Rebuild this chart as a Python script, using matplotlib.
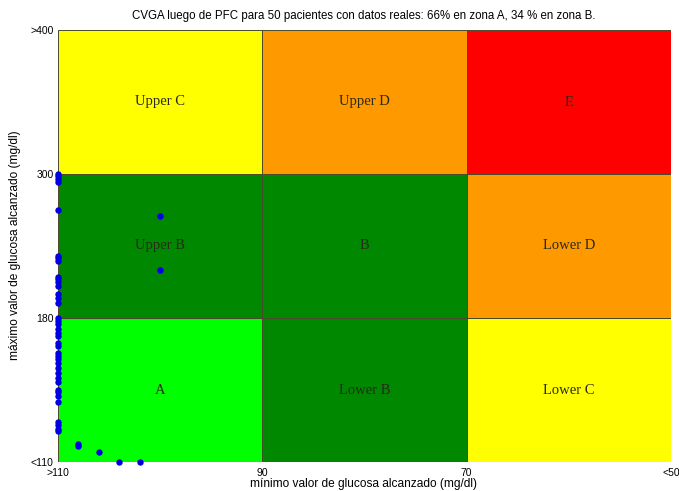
import numpy as np
import matplotlib
matplotlib.use("Agg")
import matplotlib.pyplot as plt
from matplotlib.patches import Rectangle

# Grid boundaries (mg/dl)
x_edges = [110, 90, 70, 50]          # minimum glucose, plotted right-to-left
y_edges = [110, 180, 300, 400]       # maximum glucose
x_ticklabels = [">110", "90", "70", "<50"]
y_ticklabels = ["<110", "180", "300", ">400"]

# Zone names and colours, rows from bottom to top, columns left to right
zone_names = [["A", "Lower B", "Lower C"],
              ["Upper B", "B", "Lower D"],
              ["Upper C", "Upper D", "E"]]
zone_colors = [["#00FF00", "#008800", "#FFFF00"],
               ["#008800", "#008800", "#FF9900"],
               ["#FFFF00", "#FF9900", "#FF0000"]]

# Patient min / max glucose (mg/dl)
min_glucose = [110] * 15 + [100, 100] + [110] * 24 + [108, 108, 106, 104, 102]
max_glucose = [300, 298, 295.5, 293.3, 270.3, 231.9, 230, 227.2, 214.2, 212.2,
               209.7, 206.9, 200, 196.7, 192.2, 265.3, 220.3,
               179.8, 178.7, 177.2, 174.8, 172.7, 171.1, 167.8, 166.5, 163,
               161.7, 160.1, 158.1, 155.7, 153.3, 150.8, 148.7, 145.1, 143.8,
               142.2, 139.2, 129.4, 127.8, 126.2, 124.9,
               118.8, 117.6, 114.9, 110, 110]

title = "CVGA luego de PFC para 50 pacientes con datos reales: 66% en zona A, 34 % en zona B."
xlabel = "mínimo valor de glucosa alcanzado (mg/dl)"
ylabel = "máximo valor de glucosa alcanzado (mg/dl)"

grid_pos = [0, 1, 2, 3]


def y_forward(v):
    return np.interp(v, y_edges, grid_pos)


def y_inverse(v):
    return np.interp(v, grid_pos, y_edges)


plt.rcParams["font.family"] = ["Liberation Sans", "DejaVu Sans"]

fig = plt.figure(figsize=(6.79, 4.91), dpi=100)
ax = fig.add_axes([58 / 679, 1 - 462 / 491, 613 / 679, 432 / 491])
ax.set_yscale("function", functions=(y_forward, y_inverse))
ax.set_xlim(x_edges[0], x_edges[-1])
ax.set_ylim(y_edges[0], y_edges[-1])

for r in range(3):
    for c in range(3):
        x0, x1 = x_edges[c], x_edges[c + 1]
        y0, y1 = y_edges[r], y_edges[r + 1]
        ax.add_patch(Rectangle((x0, y0), x1 - x0, y1 - y0,
                               facecolor=zone_colors[r][c],
                               edgecolor="#4a4a2a", linewidth=0.7, zorder=1))
        xc = (x0 + x1) / 2
        yc = y_inverse((y_forward(y0) + y_forward(y1)) / 2)
        ax.text(xc, yc, zone_names[r][c], ha="center", va="center",
                family=["Liberation Serif", "DejaVu Serif"], fontsize=10.5,
                color="#2a2a1a", zorder=2)

ax.plot(min_glucose, max_glucose, "o", color="#0000E0", markersize=4.6,
        markeredgewidth=0, clip_on=False, zorder=5)

ax.set_xticks(x_edges)
ax.set_xticklabels(x_ticklabels)
ax.set_yticks(y_edges)
ax.set_yticklabels(y_ticklabels)
ax.tick_params(length=0, labelsize=7.5)
ax.tick_params(axis="x", pad=4)
ax.tick_params(axis="y", pad=3)
for s in ax.spines.values():
    s.set_visible(False)

fig.text(0.536, 1 - 16 / 491, title, ha="center", va="center", fontsize=8.3)
fig.text(0.536, 1 - 484 / 491, xlabel, ha="center", va="center", fontsize=8.6)
fig.text(15 / 679, 1 - 245 / 491, ylabel, ha="center", va="center",
         rotation=90, fontsize=8.6)

fig.savefig("out.png", dpi=100)
